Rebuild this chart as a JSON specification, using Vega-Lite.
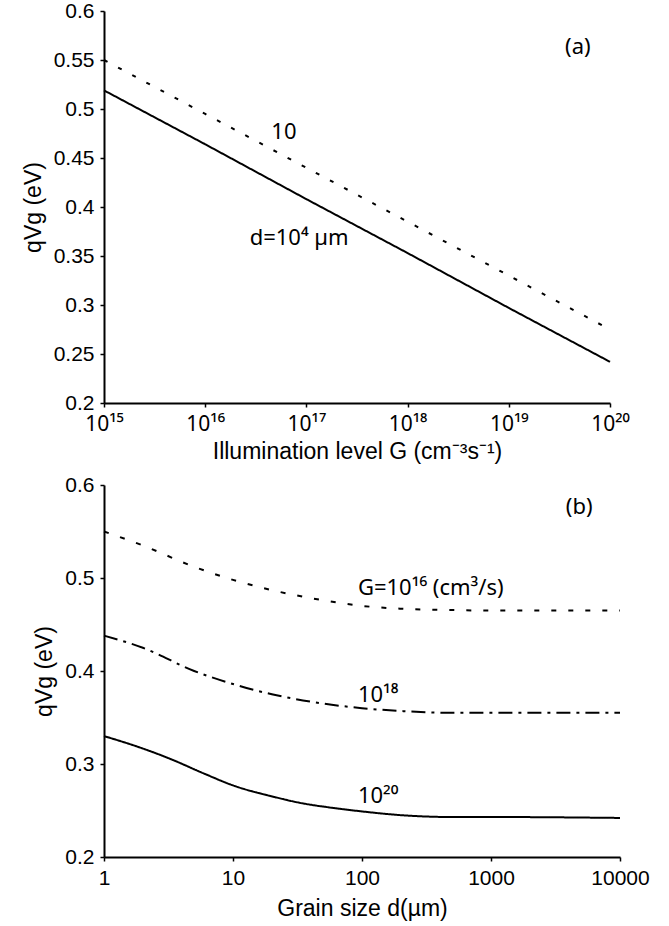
{
  "$schema": "https://vega.github.io/schema/vega-lite/v6.json",
  "background": "white",
  "padding": {"left": 22, "top": 0, "right": 5, "bottom": 5},
  "bounds": "flush",
  "spacing": 82,
  "resolve": {"scale": {"strokeDash": "independent"}},
  "datasets": {
    "a_lines": [
      {"G": 1e15, "v": 0.519, "d": "1e4"},
      {"G": 1e16, "v": 0.464, "d": "1e4"},
      {"G": 1e17, "v": 0.408, "d": "1e4"},
      {"G": 1e18, "v": 0.353, "d": "1e4"},
      {"G": 1e19, "v": 0.297, "d": "1e4"},
      {"G": 1e20, "v": 0.242, "d": "1e4"},
      {"G": 1e15, "v": 0.550, "d": "10"},
      {"G": 1e16, "v": 0.495, "d": "10"},
      {"G": 1e17, "v": 0.440, "d": "10"},
      {"G": 1e18, "v": 0.385, "d": "10"},
      {"G": 1e19, "v": 0.330, "d": "10"},
      {"G": 1e20, "v": 0.275, "d": "10"}
    ],
    "a_labels": [
      {"G": 3.6e19, "v": 0.5636, "label": "(a)"},
      {"G": 4.5e16, "v": 0.477, "label": "10"},
      {"G": 2.75e16, "v": 0.368, "label": "d=10⁴ µm"}
    ],
    "b_lines": [
      {"d": 1, "v": 0.550, "G": "16"},
      {"d": 2, "v": 0.535, "G": "16"},
      {"d": 5, "v": 0.512, "G": "16"},
      {"d": 10, "v": 0.498, "G": "16"},
      {"d": 20, "v": 0.487, "G": "16"},
      {"d": 50, "v": 0.476, "G": "16"},
      {"d": 100, "v": 0.470, "G": "16"},
      {"d": 200, "v": 0.467, "G": "16"},
      {"d": 500, "v": 0.4655, "G": "16"},
      {"d": 1000, "v": 0.465, "G": "16"},
      {"d": 10000, "v": 0.465, "G": "16"},
      {"d": 1, "v": 0.438, "G": "18"},
      {"d": 2, "v": 0.425, "G": "18"},
      {"d": 5, "v": 0.400, "G": "18"},
      {"d": 10, "v": 0.386, "G": "18"},
      {"d": 20, "v": 0.375, "G": "18"},
      {"d": 50, "v": 0.365, "G": "18"},
      {"d": 100, "v": 0.360, "G": "18"},
      {"d": 200, "v": 0.357, "G": "18"},
      {"d": 500, "v": 0.355, "G": "18"},
      {"d": 10000, "v": 0.355, "G": "18"},
      {"d": 1, "v": 0.330, "G": "20"},
      {"d": 1.7, "v": 0.320, "G": "20"},
      {"d": 3.2, "v": 0.306, "G": "20"},
      {"d": 5.9, "v": 0.290, "G": "20"},
      {"d": 10, "v": 0.277, "G": "20"},
      {"d": 21, "v": 0.2645, "G": "20"},
      {"d": 31, "v": 0.259, "G": "20"},
      {"d": 66, "v": 0.252, "G": "20"},
      {"d": 100, "v": 0.249, "G": "20"},
      {"d": 200, "v": 0.245, "G": "20"},
      {"d": 500, "v": 0.243, "G": "20"},
      {"d": 1000, "v": 0.243, "G": "20"},
      {"d": 10000, "v": 0.242, "G": "20"}
    ],
    "b_labels": [
      {"d": 3800, "v": 0.576, "label": "(b)"},
      {"d": 93, "v": 0.489, "label": "G=10¹⁶ (cm³/s)"},
      {"d": 93, "v": 0.374, "label": "10¹⁸"},
      {"d": 93, "v": 0.266, "label": "10²⁰"}
    ]
  },
  "vconcat": [
    {
      "width": 506,
      "height": 392,
      "layer": [
        {
          "data": {"name": "a_lines"},
          "mark": {"type": "line", "color": "black", "strokeWidth": 2},
          "encoding": {
            "x": {
              "field": "G", "type": "quantitative",
              "scale": {"type": "log", "domain": [1e15, 1e20], "nice": false},
              "axis": {
                "title": "Illumination level G (cm⁻³s⁻¹)",
                "values": [1e15, 1e16, 1e17, 1e18, 1e19, 1e20],
                "labelExpr": "'10' + (datum.value > 5e19 ? '²⁰' : datum.value > 5e18 ? '¹⁹' : datum.value > 5e17 ? '¹⁸' : datum.value > 5e16 ? '¹⁷' : datum.value > 5e15 ? '¹⁶' : '¹⁵')",
                "labelFont": "Noto Sans",
                "labelFlush": false,
                "titlePadding": 6
              }
            },
            "y": {
              "field": "v", "type": "quantitative",
              "scale": {"domain": [0.2, 0.6], "zero": false, "nice": false},
              "axis": {
                "title": "qVg (eV)",
                "values": [0.2, 0.25, 0.3, 0.35, 0.4, 0.45, 0.5, 0.55, 0.6],
                "format": ".2~f",
                "titlePadding": 8
              }
            },
            "strokeDash": {
              "field": "d", "type": "nominal",
              "scale": {"domain": ["1e4", "10"], "range": [[1, 0], [4, 12]]},
              "legend": null
            }
          }
        },
        {
          "data": {"name": "a_labels"},
          "mark": {"type": "text", "align": "left", "baseline": "middle", "fontSize": 22, "color": "black", "font": "Noto Sans"},
          "encoding": {
            "x": {"field": "G", "type": "quantitative"},
            "y": {"field": "v", "type": "quantitative"},
            "text": {"field": "label"}
          }
        }
      ]
    },
    {
      "width": 516,
      "height": 372,
      "layer": [
        {
          "data": {"name": "b_lines"},
          "mark": {"type": "line", "color": "black", "strokeWidth": 2, "interpolate": "monotone"},
          "encoding": {
            "x": {
              "field": "d", "type": "quantitative",
              "scale": {"type": "log", "domain": [1, 10000], "nice": false},
              "axis": {
                "title": "Grain size d(µm)",
                "values": [1, 10, 100, 1000, 10000],
                "format": "d",
                "labelFlush": false,
                "titlePadding": 9
              }
            },
            "y": {
              "field": "v", "type": "quantitative",
              "scale": {"domain": [0.2, 0.6], "zero": false, "nice": false},
              "axis": {
                "title": "qVg (eV)",
                "values": [0.2, 0.3, 0.4, 0.5, 0.6],
                "format": ".1f",
                "titlePadding": 8
              }
            },
            "strokeDash": {
              "field": "G", "type": "nominal",
              "scale": {"domain": ["16", "18", "20"], "range": [[5, 12], [14, 6, 3, 6], [1, 0]]},
              "legend": null
            }
          }
        },
        {
          "data": {"name": "b_labels"},
          "mark": {"type": "text", "align": "left", "baseline": "middle", "fontSize": 22, "color": "black", "font": "Noto Sans"},
          "encoding": {
            "x": {"field": "d", "type": "quantitative"},
            "y": {"field": "v", "type": "quantitative"},
            "text": {"field": "label"}
          }
        }
      ]
    }
  ],
  "config": {
    "font": "Liberation Sans",
    "view": {"stroke": null},
    "axis": {
      "grid": false,
      "domainColor": "black",
      "domainWidth": 2,
      "tickColor": "black",
      "tickWidth": 1.5,
      "tickSize": 4,
      "labelColor": "black",
      "labelFontSize": 21,
      "labelPadding": 6,
      "labelOverlap": false,
      "titleColor": "black",
      "titleFontSize": 23,
      "titleFontWeight": "normal"
    }
  }
}
